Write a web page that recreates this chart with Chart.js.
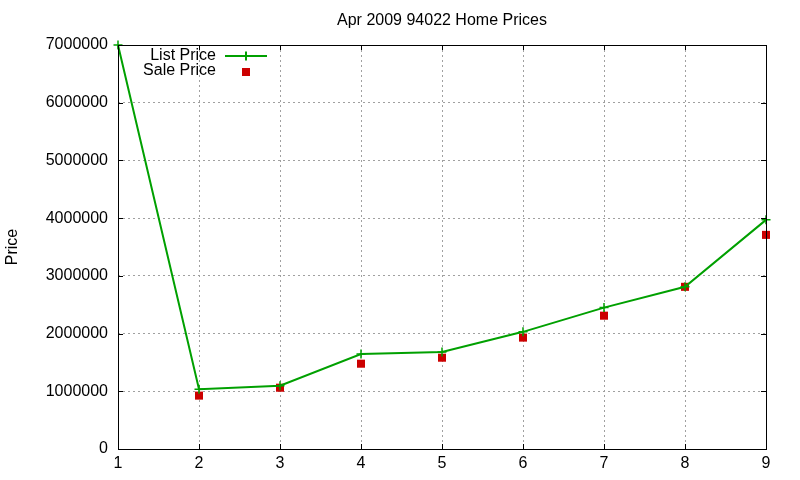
<!DOCTYPE html>
<html>
<head>
<meta charset="utf-8">
<script src="https://cdn.jsdelivr.net/npm/chart.js@4"></script>
<style>
  html, body { margin: 0; padding: 0; background: #fff; }
  #wrap { width: 800px; height: 480px; }
</style>
</head>
<body>
<div id="wrap"><canvas id="priceChart"></canvas></div>
<script>
// data
const houses = [1, 2, 3, 4, 5, 6, 7, 8, 9];
const listPrice = [7000000, 1034000, 1097000, 1646000, 1681000, 2030000, 2450000, 2810000, 3970000];
const salePrice = [null, 925000, 1062000, 1478000, 1582000, 1930000, 2310000, 2810000, 3710000];
const yTicks = [0, 1000000, 2000000, 3000000, 4000000, 5000000, 6000000, 7000000];

const FONT = "'Liberation Sans', Arial, sans-serif";
const GREEN = '#00a000';
const RED = '#cc0000';

// gnuplot style box + inward tick marks on all four sides
const frame = {
    id: 'frame',
    afterDatasetsDraw(chart) {
        const { ctx, chartArea: a, scales } = chart;
        ctx.save();
        ctx.strokeStyle = '#000';
        ctx.lineWidth = 1;
        ctx.beginPath();
        scales.x.ticks.forEach(t => {
            const px = Math.round(scales.x.getPixelForValue(t.value)) + 0.5;
            ctx.moveTo(px, a.bottom); ctx.lineTo(px, a.bottom - 5);
            ctx.moveTo(px, a.top); ctx.lineTo(px, a.top + 5);
        });
        scales.y.ticks.forEach(t => {
            const py = Math.round(scales.y.getPixelForValue(t.value)) + 0.5;
            ctx.moveTo(a.left, py); ctx.lineTo(a.left + 5, py);
            ctx.moveTo(a.right, py); ctx.lineTo(a.right - 5, py);
        });
        ctx.stroke();
        ctx.strokeRect(Math.round(a.left) + 0.5, Math.round(a.top) + 0.5,
            Math.round(a.right - a.left), Math.round(a.bottom - a.top));
        ctx.restore();
    }
};

// legend in the top-left corner: label on the left, sample on the right
const keyBox = {
    id: 'keyBox',
    afterDraw(chart) {
        const { ctx } = chart;
        ctx.save();
        ctx.font = '16px ' + FONT;
        ctx.fillStyle = '#000';
        ctx.textAlign = 'right';
        ctx.textBaseline = 'middle';
        ctx.fillText('List Price', 216, 56);
        ctx.fillText('Sale Price', 216, 71);

        ctx.strokeStyle = GREEN;
        ctx.lineWidth = 2;
        ctx.beginPath();
        ctx.moveTo(225, 56); ctx.lineTo(267, 56);
        ctx.moveTo(246, 51.5); ctx.lineTo(246, 60.5);
        ctx.stroke();

        ctx.fillStyle = RED;
        ctx.fillRect(242, 68, 8, 8);
        ctx.restore();
    }
};

const ctx = document.getElementById('priceChart').getContext('2d');
const chart = new Chart(ctx, {
    type: 'line',
    data: {
        datasets: [
            {
                label: 'List Price',
                data: houses.map((h, i) => ({ x: h, y: listPrice[i] })),
                borderColor: GREEN,
                backgroundColor: GREEN,
                borderWidth: 2,
                pointStyle: 'cross',
                pointRadius: 4.5,
                pointBorderWidth: 1.5,
                tension: 0,
                clip: false
            },
            {
                label: 'Sale Price',
                data: houses.map((h, i) => ({ x: h, y: salePrice[i] })),
                showLine: false,
                borderColor: RED,
                backgroundColor: RED,
                pointStyle: 'rect',
                pointRadius: 5.7,
                pointBorderWidth: 0,
                clip: false
            }
        ]
    },
    options: {
        responsive: true,
        maintainAspectRatio: false,
        animation: false,
        layout: { padding: { top: 0, right: 34, bottom: 0, left: 0 } },
        plugins: {
            legend: { display: false },
            tooltip: { enabled: false },
            title: {
                display: true,
                text: 'Apr 2009 94022 Home Prices',
                fullSize: false,
                color: '#000',
                font: { family: FONT, size: 16, weight: 'normal' },
                padding: { top: 11, bottom: 14.8 }
            }
        },
        scales: {
            x: {
                type: 'linear',
                min: 1,
                max: 9,
                ticks: {
                    stepSize: 1,
                    color: '#000',
                    padding: 5,
                    font: { family: FONT, size: 16 }
                },
                grid: {
                    color: '#a0a0a0',
                    lineWidth: 1,
                    drawTicks: false
                },
                border: { display: false, dash: [2, 3] },
                afterFit: s => { s.height = 31; }
            },
            y: {
                min: 0,
                max: 7000000,
                afterBuildTicks: s => { s.ticks = yTicks.map(v => ({ value: v })); },
                ticks: {
                    color: '#000',
                    padding: 10,
                    font: { family: FONT, size: 16 },
                    callback: v => String(v)
                },
                grid: {
                    color: '#a0a0a0',
                    lineWidth: 1,
                    drawTicks: false
                },
                border: { display: false, dash: [2, 3] },
                title: {
                    display: true,
                    text: 'Price',
                    color: '#000',
                    font: { family: FONT, size: 16 },
                    padding: { top: 3, bottom: 0 }
                },
                afterFit: s => { s.width = 118; }
            }
        }
    },
    plugins: [frame, keyBox]
});
</script>
</body>
</html>
